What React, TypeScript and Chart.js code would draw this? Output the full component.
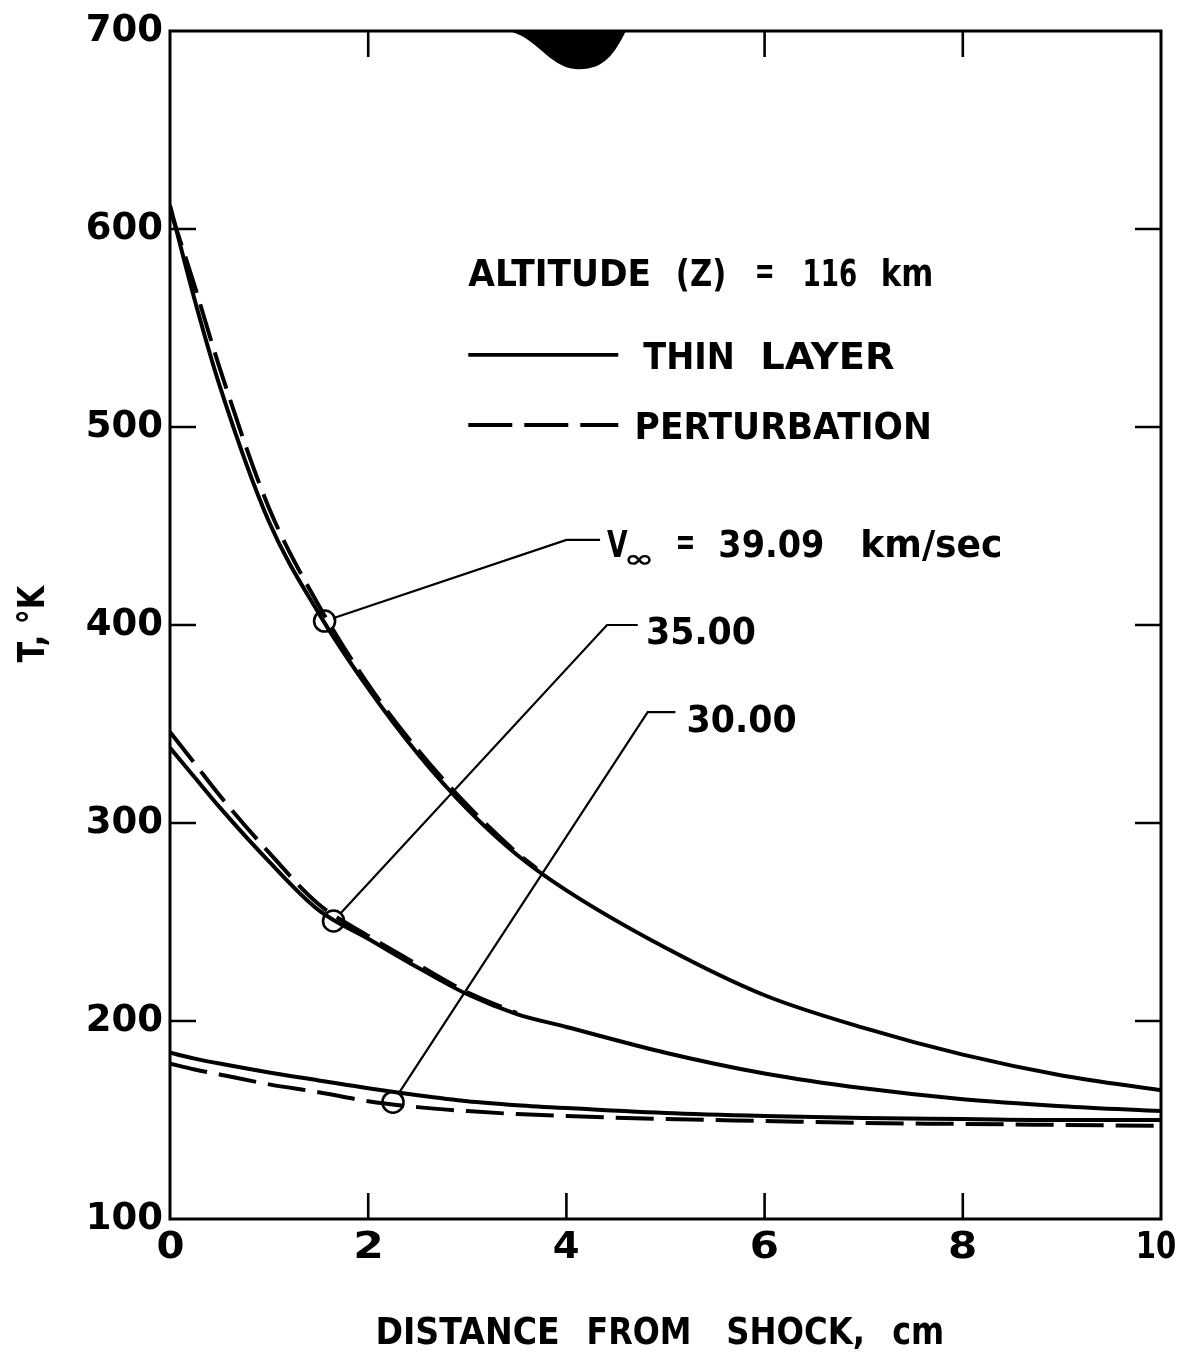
import React, { useEffect, useRef } from "react";
import { Chart, registerables } from "chart.js";

Chart.register(...registerables);

// ---------------- data ----------------
const distanceCm = [0, 0.25, 0.5, 1, 1.5, 2, 2.5, 3, 3.5, 4, 5, 6, 7, 8, 9, 10];
const thinLayer3909 = [612, 564, 521, 452, 406, 368, 335, 307, 284, 266, 237, 213, 196.5, 183, 172.5, 165];
const thinLayer3500 = [338, 323, 308, 280.5, 256, 241.5, 227, 213.5, 203.5, 197, 184, 173.5, 166, 160.5, 157, 154.5];
const thinLayer3000 = [184, 181, 178.5, 174, 170, 166, 162.5, 159.5, 157.5, 156, 153.5, 152, 151, 150.5, 150, 150];

const pertDistance3909 = [0, 0.25, 0.5, 1, 1.5, 2, 2.5, 3, 3.5, 3.7];
const perturbation3909 = [610, 571, 530, 459, 410, 370, 337, 309, 285, 277];
const pertDistance3500 = [0, 0.25, 0.5, 1, 1.5, 2, 2.5, 3, 3.5];
const perturbation3500 = [346, 330, 314, 285, 259, 243, 228.5, 214.5, 204];
const perturbation3000 = [178.5, 175.5, 173, 168, 164, 159.5, 156.5, 154.5, 153, 152, 150.5, 149.5, 148.5, 148, 147.5, 147];

const velocityLabels = ["39.09", "35.00", "30.00"];
const markerDistance = [1.56, 1.65, 2.25];
const markerT = [402, 250.5, 159];
const elbowDistance = [4.0, 4.41, 4.82];
const elbowT = [443, 400, 356];
const leaderEndDistance = [4.34, 4.72, 5.1];

const xTicks = [0, 2, 4, 6, 8, 10];
const xTickLabels = ["0", "2", "4", "6", "8", "10"];
const yTicks = [100, 200, 300, 400, 500, 600, 700];

const xTitleWords = ["DISTANCE", "FROM", "SHOCK,", "cm"];
const yTitle = "T, \u00B0K";
const altitudeWords = ["ALTITUDE", "(Z)", "=", "116", "km"];
const thinLayerWords = ["THIN", "LAYER"];
const perturbationWords = ["PERTURBATION"];

// ---------------- drawing helpers ----------------
const FAMILY = '"DejaVu Sans", "Liberation Sans", sans-serif';
const TEXT_SIZE = 38;

function fitWord(ctx: CanvasRenderingContext2D, text: string, x0: number, x1: number, baseline: number, size: number) {
  ctx.save();
  ctx.font = `bold ${size}px ${FAMILY}`;
  ctx.textAlign = "left";
  ctx.textBaseline = "alphabetic";
  const m = ctx.measureText(text);
  const w = m.actualBoundingBoxLeft + m.actualBoundingBoxRight;
  const sx = (x1 - x0) / w;
  ctx.translate(x0, baseline);
  ctx.scale(sx, 1);
  ctx.fillText(text, m.actualBoundingBoxLeft, 0);
  ctx.restore();
}

function fitWordMid(ctx: CanvasRenderingContext2D, text: string, x0: number, x1: number, yMid: number, size: number) {
  ctx.save();
  ctx.font = `bold ${size}px ${FAMILY}`;
  ctx.textAlign = "left";
  ctx.textBaseline = "alphabetic";
  const m = ctx.measureText(text);
  const w = m.actualBoundingBoxLeft + m.actualBoundingBoxRight;
  const sx = (x1 - x0) / w;
  const baseline = yMid + (m.actualBoundingBoxAscent - m.actualBoundingBoxDescent) / 2;
  ctx.translate(x0, baseline);
  ctx.scale(sx, 1);
  ctx.fillText(text, m.actualBoundingBoxLeft, 0);
  ctx.restore();
}

const capBaseline = (yMid: number, size: number) => yMid + (0.729 * size) / 2;

const decorPlugin = {
  id: "decor",
  afterDatasetsDraw(chart: any) {
    const { ctx, chartArea: a, scales } = chart;
    const X = (v: number) => scales.x.getPixelForValue(v);
    const Y = (v: number) => scales.y.getPixelForValue(v);
    ctx.save();
    ctx.strokeStyle = "#000";
    ctx.fillStyle = "#000";

    // frame
    ctx.lineWidth = 3;
    ctx.strokeRect(a.left, a.top, a.right - a.left, a.bottom - a.top);

    // inward tick marks on all four sides
    const tl = 26;
    ctx.lineWidth = 2.6;
    ctx.beginPath();
    xTicks.slice(1, -1).forEach((v) => {
      const px = X(v);
      ctx.moveTo(px, a.bottom);
      ctx.lineTo(px, a.bottom - tl);
      ctx.moveTo(px, a.top);
      ctx.lineTo(px, a.top + tl);
    });
    yTicks.slice(1, -1).forEach((v) => {
      const py = Y(v);
      ctx.moveTo(a.left, py);
      ctx.lineTo(a.left + tl, py);
      ctx.moveTo(a.right, py);
      ctx.lineTo(a.right - tl, py);
    });
    ctx.stroke();

    // scan blot at the top edge
    const bx0 = X(3.4);
    const bx1 = X(4.6);
    ctx.beginPath();
    ctx.moveTo(bx0, a.top);
    ctx.bezierCurveTo(bx0 + 28, a.top + 4, bx0 + 42, a.top + 36, bx0 + 68, a.top + 38);
    ctx.bezierCurveTo(bx0 + 96, a.top + 40, bx1 - 12, a.top + 24, bx1, a.top);
    ctx.closePath();
    ctx.fill();

    // leader lines from the circled points to the velocity labels
    const r = 10.5;
    ctx.lineWidth = 2.2;
    velocityLabels.forEach((_, i) => {
      const cx = X(markerDistance[i]);
      const cy = Y(markerT[i]);
      const ex = X(elbowDistance[i]);
      const ey = Y(elbowT[i]);
      const endx = X(leaderEndDistance[i]);
      const dx = ex - cx;
      const dy = ey - cy;
      const len = Math.hypot(dx, dy);
      ctx.beginPath();
      ctx.moveTo(cx + (dx / len) * r, cy + (dy / len) * r);
      ctx.lineTo(ex, ey);
      ctx.lineTo(endx, ey);
      ctx.stroke();
    });
    ctx.restore();
  },
  afterDraw(chart: any) {
    const { ctx, chartArea: a, scales } = chart;
    const X = (v: number) => scales.x.getPixelForValue(v);
    const Y = (v: number) => scales.y.getPixelForValue(v);
    ctx.save();
    ctx.fillStyle = "#000";
    ctx.strokeStyle = "#000";
    const S = TEXT_SIZE;

    // x tick labels
    xTicks.forEach((v, i) => {
      const lab = xTickLabels[i];
      const w = lab.length === 1 ? 25 : 36;
      const cx = X(v) - (i === xTicks.length - 1 ? 4 : 0);
      fitWord(ctx, lab, cx - w / 2, cx + w / 2, capBaseline(a.bottom + 26, 37), 37);
    });

    // legend block
    const lx = X(3.01);
    const r1 = Y(578.3);
    const altOff = [[0, 181], [210, 256], [289, 304], [337, 388], [415, 463]];
    altitudeWords.forEach((w, i) => {
      if (w === "=") fitWordMid(ctx, w, lx + altOff[i][0], lx + altOff[i][1], r1, S);
      else fitWord(ctx, w, lx + altOff[i][0], lx + altOff[i][1], capBaseline(r1, S), S);
    });
    const r2 = Y(536.4);
    ctx.lineWidth = 3.8;
    ctx.beginPath();
    ctx.moveTo(lx, r2);
    ctx.lineTo(lx + 150, r2);
    ctx.stroke();
    const thinOff = [[175, 264], [295, 426]];
    thinLayerWords.forEach((w, i) => fitWord(ctx, w, lx + thinOff[i][0], lx + thinOff[i][1], capBaseline(r2, S), S));
    const r3 = Y(501);
    ctx.setLineDash([44, 12]);
    ctx.beginPath();
    ctx.moveTo(lx, r3);
    ctx.lineTo(lx + 150, r3);
    ctx.stroke();
    ctx.setLineDash([]);
    fitWord(ctx, perturbationWords[0], lx + 169, lx + 461, capBaseline(r3, S), S);

    // velocity labels
    velocityLabels.forEach((lab, i) => {
      const ex = X(leaderEndDistance[i]);
      const ey = Y(elbowT[i]);
      if (i === 0) {
        const x0 = ex + 7;
        const yc = ey + 3;
        const bl = capBaseline(yc, S);
        fitWord(ctx, "V", x0, x0 + 21, bl, S);
        fitWordMid(ctx, "\u221E", x0 + 20, x0 + 44, bl + 3, 24);
        fitWordMid(ctx, "=", x0 + 71, x0 + 86, yc, S);
        fitWord(ctx, lab, x0 + 113, x0 + 216, bl, S);
        fitWord(ctx, "km/sec", x0 + 256, x0 + 393, bl, S);
      } else {
        const x0 = ex + (i === 1 ? 10 : 13);
        const yc = ey + (i === 1 ? 5 : 6);
        fitWord(ctx, lab, x0, x0 + 107, capBaseline(yc, S), S);
      }
    });

    // x axis title
    const ty = a.bottom + 111;
    const titleOff = [[208, 388], [419, 519], [558, 692], [723, 772]];
    xTitleWords.forEach((w, i) =>
      fitWord(ctx, w, a.left + titleOff[i][0], a.left + titleOff[i][1], capBaseline(ty, S), S)
    );

    // y axis title (rotated)
    ctx.save();
    ctx.translate(a.left - 140, Y(381));
    ctx.rotate(-Math.PI / 2);
    fitWord(ctx, yTitle, 0, 78, (0.729 * S) / 2, S);
    ctx.restore();

    ctx.restore();
  },
};

const toPoints = (xs: number[], ys: number[]) => xs.map((x, i) => ({ x, y: ys[i] }));

export default function App() {
  const canvasRef = useRef<HTMLCanvasElement | null>(null);

  useEffect(() => {
    if (!canvasRef.current) return;
    const solid = {
      borderColor: "#000",
      borderWidth: 4,
      pointRadius: 0,
      fill: false,
      cubicInterpolationMode: "monotone" as const,
    };
    const dashed = { ...solid, borderDash: [38, 12] };
    const chart = new Chart(canvasRef.current, {
      type: "line",
      data: {
        datasets: [
          { label: "Thin layer, 39.09", data: toPoints(distanceCm, thinLayer3909), ...solid },
          { label: "Thin layer, 35.00", data: toPoints(distanceCm, thinLayer3500), ...solid },
          { label: "Thin layer, 30.00", data: toPoints(distanceCm, thinLayer3000), ...solid },
          { label: "Perturbation, 39.09", data: toPoints(pertDistance3909, perturbation3909), ...dashed },
          { label: "Perturbation, 35.00", data: toPoints(pertDistance3500, perturbation3500), ...dashed },
          { label: "Perturbation, 30.00", data: toPoints(distanceCm, perturbation3000), ...dashed },
          {
            label: "Labelled points",
            data: toPoints(markerDistance, markerT),
            showLine: false,
            pointStyle: "circle",
            pointRadius: 10.5,
            pointBorderWidth: 2.6,
            pointBorderColor: "#000",
            pointBackgroundColor: "rgba(0,0,0,0)",
          },
        ],
      },
      options: {
        responsive: false,
        animation: false,
        devicePixelRatio: 1,
        layout: { padding: { top: 31, right: 19, left: 0, bottom: 0 } },
        plugins: {
          legend: { display: false },
          tooltip: { enabled: false },
          title: { display: false },
        },
        scales: {
          x: {
            type: "linear",
            min: 0,
            max: 10,
            ticks: { display: false, stepSize: 2 },
            grid: { display: false, drawTicks: false },
            border: { display: false },
            afterFit: (s: any) => {
              s.height = 135;
              s.paddingLeft = 0;
              s.paddingRight = 0;
            },
          },
          y: {
            type: "linear",
            min: 100,
            max: 700,
            ticks: {
              stepSize: 100,
              padding: 7,
              color: "#000",
              font: { family: FAMILY, weight: "bold", size: 37 },
            },
            grid: { display: false, drawTicks: false },
            border: { display: false },
            afterFit: (s: any) => {
              s.width = 170;
              s.paddingTop = 0;
              s.paddingBottom = 0;
            },
          },
        },
      },
      plugins: [decorPlugin],
    } as any);
    return () => chart.destroy();
  }, []);

  return (
    <div style={{ position: "absolute", left: 0, top: 0, width: 1180, height: 1354, background: "#fff" }}>
      <canvas ref={canvasRef} width={1180} height={1354} style={{ display: "block", width: 1180, height: 1354 }} />
    </div>
  );
}
